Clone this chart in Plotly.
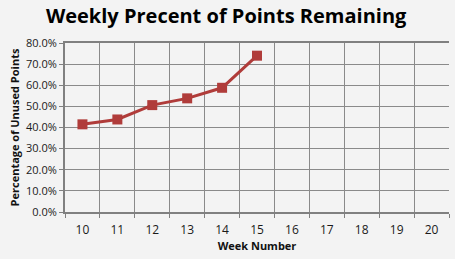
import plotly.graph_objects as go

weeks = ["10", "11", "12", "13", "14", "15", "16", "17", "18", "19", "20"]
pct_remaining = [41.5, 43.8, 50.6, 53.8, 58.8, 74.0, None, None, None, None, None]
y_ticks = [0, 10, 20, 30, 40, 50, 60, 70, 80]
y_tick_labels = [f"{v:.1f}%" for v in y_ticks]

title = "Weekly Precent of Points Remaining"
x_title = "Week Number"
y_title = "Percentage of Unused Points"

fig = go.Figure()
fig.add_trace(go.Scatter(
    x=weeks, y=pct_remaining, mode="lines+markers",
    line=dict(color="#b03c3a", width=3),
    marker=dict(symbol="square", size=10, color="#b03c3a"),
    connectgaps=False, showlegend=False,
))

fig.update_layout(
    width=455, height=259,
    margin=dict(l=65, r=6, t=43, b=47),
    paper_bgcolor="#f3f3f3", plot_bgcolor="#f3f3f3",
    font=dict(family="Open Sans", color="#222222"),
    title=dict(text=f"<b>{title}</b>", x=0.497, xanchor="center",
               y=1 - 16 / 259, yanchor="middle",
               font=dict(size=20, color="#000000", family="Open Sans")),
)
fig.update_xaxes(
    type="category", categoryorder="array", categoryarray=weeks,
    range=[-0.5, 10.5], tickson="boundaries",
    showgrid=True, gridcolor="#8a8a8a", gridwidth=1,
    showline=True, linecolor="#808080", linewidth=2, mirror=True,
    ticks="outside", ticklen=4, tickcolor="#808080", tickwidth=1,
    ticklabelstandoff=6,
    tickfont=dict(size=12, color="#1a1a1a"),
    title=dict(text=f"<b>{x_title}</b>", font=dict(size=11, color="#111111"), standoff=4),
)
fig.update_yaxes(
    range=[0, 80], tickvals=y_ticks, ticktext=y_tick_labels,
    showgrid=True, gridcolor="#8a8a8a", gridwidth=1,
    showline=True, linecolor="#808080", linewidth=2,
    ticks="outside", ticklen=4, tickcolor="#808080", tickwidth=1,
    tickfont=dict(size=11, color="#1a1a1a"),
    title=dict(text=f"<b>{y_title}</b>", font=dict(size=11, color="#111111"), standoff=4),
    zeroline=False,
)

fig.write_html("out.html")
